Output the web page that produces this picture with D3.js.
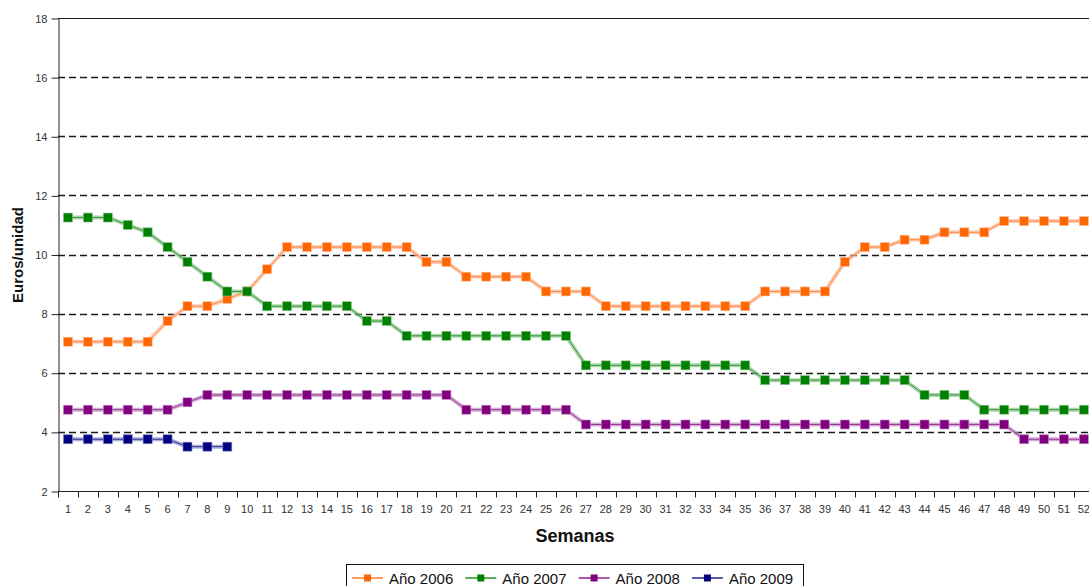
<!DOCTYPE html>
<html>
<head>
<meta charset="utf-8">
<style>
  body { margin: 0; background: #fff; }
  svg text { font-family: 'Liberation Sans', Arial, sans-serif; fill: #111; }
  .grid line { stroke: #1a1a1a; stroke-dasharray: 7,4; stroke-width: 1.3; }
</style>
</head>
<body>
<div id="chart"></div>
<script src="https://cdn.jsdelivr.net/npm/d3@7"></script>
<script>
  var weeks = d3.range(1, 53);
  var yTicks = [2, 4, 6, 8, 10, 12, 14, 16, 18];

  var names = ["Año 2006", "Año 2007", "Año 2008", "Año 2009"];
  var colors = ["#ff6600", "#008000", "#800080", "#000080"];
  var halos = ["#ffb899", "#8cc48c", "#c08cc0", "#8c8cc8"];

  var y2006 = [7.05, 7.05, 7.05, 7.05, 7.05, 7.75, 8.25, 8.25, 8.5, 8.75,
               9.5, 10.25, 10.25, 10.25, 10.25, 10.25, 10.25, 10.25, 9.75, 9.75,
               9.25, 9.25, 9.25, 9.25, 8.75, 8.75, 8.75, 8.25, 8.25, 8.25,
               8.25, 8.25, 8.25, 8.25, 8.25, 8.75, 8.75, 8.75, 8.75, 9.75,
               10.25, 10.25, 10.5, 10.5, 10.75, 10.75, 10.75, 11.13, 11.13, 11.13,
               11.13, 11.13];
  var y2007 = [11.25, 11.25, 11.25, 11, 10.75, 10.25, 9.75, 9.25, 8.75, 8.75,
               8.25, 8.25, 8.25, 8.25, 8.25, 7.75, 7.75, 7.25, 7.25, 7.25,
               7.25, 7.25, 7.25, 7.25, 7.25, 7.25, 6.25, 6.25, 6.25, 6.25,
               6.25, 6.25, 6.25, 6.25, 6.25, 5.75, 5.75, 5.75, 5.75, 5.75,
               5.75, 5.75, 5.75, 5.25, 5.25, 5.25, 4.75, 4.75, 4.75, 4.75,
               4.75, 4.75];
  var y2008 = [4.75, 4.75, 4.75, 4.75, 4.75, 4.75, 5.0, 5.25, 5.25, 5.25,
               5.25, 5.25, 5.25, 5.25, 5.25, 5.25, 5.25, 5.25, 5.25, 5.25,
               4.75, 4.75, 4.75, 4.75, 4.75, 4.75, 4.25, 4.25, 4.25, 4.25,
               4.25, 4.25, 4.25, 4.25, 4.25, 4.25, 4.25, 4.25, 4.25, 4.25,
               4.25, 4.25, 4.25, 4.25, 4.25, 4.25, 4.25, 4.25, 3.75, 3.75,
               3.75, 3.75];
  var y2009 = [3.75, 3.75, 3.75, 3.75, 3.75, 3.75, 3.5, 3.5, 3.5];

  var series = [y2006, y2007, y2008, y2009];

  var width = 1089, height = 586;
  var plotLeft = 58, plotTop = 18, plotBottom = 491, bandW = 19.92;

  var svg = d3.select("#chart").append("svg")
    .attr("width", width)
    .attr("height", height);

  var x = d3.scaleBand()
    .domain(weeks)
    .range([plotLeft, plotLeft + bandW * weeks.length]);

  var y = d3.scaleLinear()
    .domain([2, 18])
    .range([plotBottom, plotTop]);

  // dashed gridlines
  svg.append("g").attr("class", "grid")
    .selectAll("line")
    .data(yTicks.filter(function(d) { return d > 2 && d < 18; }))
    .enter().append("line")
      .attr("x1", plotLeft).attr("x2", width)
      .attr("y1", function(d) { return Math.round(y(d)) + 0.5; })
      .attr("y2", function(d) { return Math.round(y(d)) + 0.5; });

  // top border
  svg.append("line")
    .attr("x1", plotLeft).attr("x2", width)
    .attr("y1", y(18) + 0.5).attr("y2", y(18) + 0.5)
    .attr("stroke", "#222");

  // y axis
  var yAxis = svg.append("g")
    .attr("transform", "translate(" + (plotLeft + 0.5) + ",0.5)")
    .call(d3.axisLeft(y).tickValues(yTicks).tickSize(7).tickPadding(4).tickSizeOuter(0));
  yAxis.select(".domain").attr("stroke", "#222");
  yAxis.selectAll(".tick line").attr("stroke", "#222");
  yAxis.selectAll("text").style("font-size", "11px").style("fill", "#333");

  // x axis: ticks at boundaries, labels at centres
  var xAxis = svg.append("g")
    .attr("transform", "translate(0," + (plotBottom + 0.5) + ")");
  xAxis.append("line")
    .attr("x1", plotLeft).attr("x2", width)
    .attr("stroke", "#222");
  xAxis.selectAll(".xt")
    .data(weeks)
    .enter().append("line")
      .attr("class", "xt")
      .attr("x1", function(d) { return Math.round(x(d)) + 0.5; })
      .attr("x2", function(d) { return Math.round(x(d)) + 0.5; })
      .attr("y1", 0).attr("y2", 6)
      .attr("stroke", "#222");
  xAxis.selectAll("text")
    .data(weeks)
    .enter().append("text")
      .attr("x", function(d) { return x(d) + x.bandwidth() / 2; })
      .attr("y", 21)
      .attr("text-anchor", "middle")
      .style("font-size", "11px")
      .style("fill", "#333")
      .text(function(d) { return d; });

  // axis titles
  svg.append("text")
    .attr("x", 575).attr("y", 542)
    .attr("text-anchor", "middle")
    .style("font-size", "18px").style("font-weight", "bold")
    .text("Semanas");

  svg.append("text")
    .attr("transform", "translate(23,255) rotate(-90)")
    .attr("text-anchor", "middle")
    .style("font-size", "15px").style("font-weight", "bold")
    .text("Euros/unidad");

  // series
  var line = d3.line()
    .x(function(d, i) { return x(weeks[i]) + x.bandwidth() / 2; })
    .y(function(d) { return y(d); });

  series.forEach(function(s, k) {
    var g = svg.append("g");
    g.append("path")
      .attr("d", line(s))
      .attr("fill", "none")
      .attr("stroke", halos[k])
      .attr("stroke-width", 4)
      .attr("opacity", 0.7);
    g.append("path")
      .attr("d", line(s))
      .attr("fill", "none")
      .attr("stroke", colors[k])
      .attr("stroke-width", 1)
      .attr("opacity", 0.7);
    g.selectAll("rect")
      .data(s)
      .enter().append("rect")
        .attr("x", function(d, i) { return x(weeks[i]) + x.bandwidth() / 2 - 4.5; })
        .attr("y", function(d) { return y(d) - 4.5; })
        .attr("width", 9).attr("height", 9)
        .attr("fill", colors[k])
        .attr("stroke", halos[k])
        .attr("stroke-width", 0.6);
  });

  // legend
  var legend = svg.append("g");
  legend.append("rect")
    .attr("x", 346.5).attr("y", 564.5)
    .attr("width", 457).attr("height", 30)
    .attr("fill", "#fff").attr("stroke", "#111");

  var item = legend.selectAll(".item")
    .data(names)
    .enter().append("g")
      .attr("class", "item")
      .attr("transform", function(d, i) { return "translate(" + (352 + i * 113.3) + ",578)"; });
  item.append("line")
    .attr("x1", 0).attr("x2", 31)
    .attr("stroke", function(d, i) { return colors[i]; })
    .attr("stroke-width", 1.3);
  item.append("rect")
    .attr("x", 12).attr("y", -3.5)
    .attr("width", 7).attr("height", 7)
    .attr("fill", function(d, i) { return colors[i]; });
  item.append("text")
    .attr("x", 37).attr("y", 5.5)
    .style("font-size", "15px")
    .text(function(d) { return d; });
</script>
</body>
</html>
